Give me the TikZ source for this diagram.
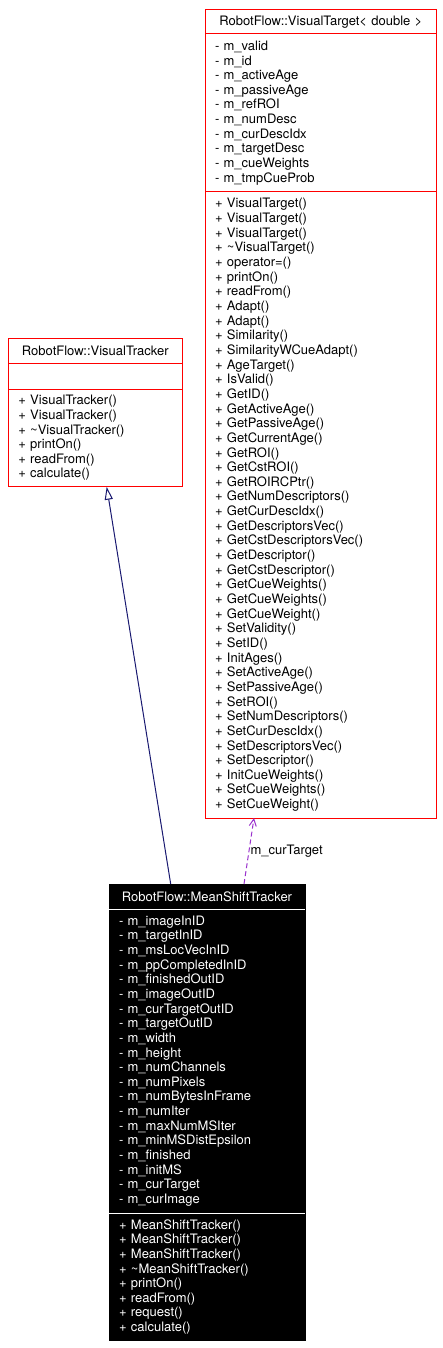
\documentclass[tikz,border=0pt]{standalone}
\usepackage{fontspec}
\setmainfont{TeX Gyre Heros}
\usepackage{tikz}
\usetikzlibrary{arrows.meta, positioning}
\definecolor{edgeblue}{RGB}{25,25,112}
\definecolor{edgepurple}{RGB}{154,50,205}
\newcommand{\umlfont}{\fontsize{13}{14.65}\selectfont}

\begin{document}
\begin{tikzpicture}[
    x=1pt, y=-1pt,
    part/.style={draw=red, line width=1pt, inner xsep=10pt, inner ysep=0pt, outer sep=0pt, font=\umlfont, align=left},
    title/.style={part, align=center},
    dark/.style={fill=black, draw=black, text=white},
    inherit/.style={edgeblue, line width=1pt, -{Triangle[open, length=13pt, width=8pt]}},
    uses/.style={edgepurple, line width=1pt, dash pattern=on 5pt off 3pt, -{Straight Barb[length=7pt, width=7pt]}}
]
    \useasboundingbox (0,0) rectangle (442,1348);

    % RobotFlow::VisualTarget< double >
    \node[title, text width=211.7pt, minimum height=24pt, anchor=north west] (vtgtitle) at (205,10)
        {RobotFlow::VisualTarget< double >};
    \node[part, text width=211.7pt, minimum height=158pt, below=0pt of vtgtitle] (vtgattr)
        {- m\_valid\\- m\_id\\- m\_activeAge\\- m\_passiveAge\\- m\_refROI\\- m\_numDesc\\- m\_curDescIdx\\- m\_targetDesc\\- m\_cueWeights\\- m\_tmpCueProb};
    \node[part, text width=211.7pt, minimum height=626pt, below=0pt of vtgattr] (vtgmeth)
        {+ VisualTarget()\\+ VisualTarget()\\+ VisualTarget()\\+ \textasciitilde VisualTarget()\\+ operator=()\\+ printOn()\\+ readFrom()\\+ Adapt()\\+ Adapt()\\+ Similarity()\\+ SimilarityWCueAdapt()\\+ AgeTarget()\\+ IsValid()\\+ GetID()\\+ GetActiveAge()\\+ GetPassiveAge()\\+ GetCurrentAge()\\+ GetROI()\\+ GetCstROI()\\+ GetROIRCPtr()\\+ GetNumDescriptors()\\+ GetCurDescIdx()\\+ GetDescriptorsVec()\\+ GetCstDescriptorsVec()\\+ GetDescriptor()\\+ GetCstDescriptor()\\+ GetCueWeights()\\+ GetCueWeights()\\+ GetCueWeight()\\+ SetValidity()\\+ SetID()\\+ InitAges()\\+ SetActiveAge()\\+ SetPassiveAge()\\+ SetROI()\\+ SetNumDescriptors()\\+ SetCurDescIdx()\\+ SetDescriptorsVec()\\+ SetDescriptor()\\+ InitCueWeights()\\+ SetCueWeights()\\+ SetCueWeight()};

    % RobotFlow::VisualTracker
    \node[title, text width=154pt, minimum height=25pt, anchor=north west] (vtrtitle) at (8.3,338.3)
        {RobotFlow::VisualTracker};
    \node[part, text width=154pt, minimum height=26pt, below=0pt of vtrtitle] (vtrattr) {};
    \node[part, text width=154pt, minimum height=97.4pt, below=0pt of vtrattr] (vtrmeth)
        {+ VisualTracker()\\+ VisualTracker()\\+ \textasciitilde VisualTracker()\\+ printOn()\\+ readFrom()\\+ calculate()};

    % RobotFlow::MeanShiftTracker
    \node[title, dark, text width=176pt, minimum height=25pt, anchor=north west] (msttitle) at (109,884)
        {RobotFlow::MeanShiftTracker};
    \node[part, dark, text width=176pt, minimum height=304pt, below=0pt of msttitle] (mstattr)
        {- m\_imageInID\\- m\_targetInID\\- m\_msLocVecInID\\- m\_ppCompletedInID\\- m\_finishedOutID\\- m\_imageOutID\\- m\_curTargetOutID\\- m\_targetOutID\\- m\_width\\- m\_height\\- m\_numChannels\\- m\_numPixels\\- m\_numBytesInFrame\\- m\_numIter\\- m\_maxNumMSIter\\- m\_minMSDistEpsilon\\- m\_finished\\- m\_initMS\\- m\_curTarget\\- m\_curImage};
    \node[part, dark, text width=176pt, minimum height=127.7pt, below=0pt of mstattr] (mstmeth)
        {+ MeanShiftTracker()\\+ MeanShiftTracker()\\+ MeanShiftTracker()\\+ \textasciitilde MeanShiftTracker()\\+ printOn()\\+ readFrom()\\+ request()\\+ calculate()};
    \draw[white] (mstattr.north west) -- (mstattr.north east);
    \draw[white] (mstmeth.north west) -- (mstmeth.north east);

    % relations
    \draw[inherit] ([xshift=-36.3pt]msttitle.north) -- ([xshift=11.4pt]vtrmeth.south);
    \draw[uses] ([xshift=37pt]msttitle.north) -- node[right, text=black, font=\umlfont, inner sep=1pt] (curtarget) {m\_curTarget} ([xshift=-66.85pt]vtgmeth.south);
\end{tikzpicture}
\end{document}
